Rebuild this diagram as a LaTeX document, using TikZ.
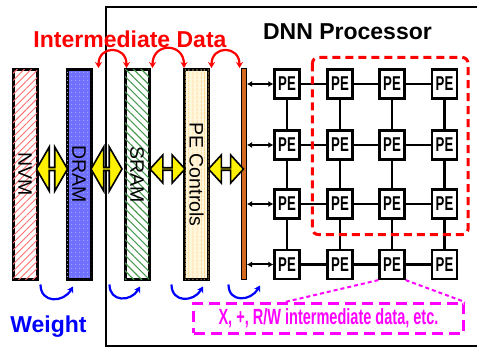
\documentclass[tikz,border=0pt]{standalone}
\usepackage{fontspec}
\setmainfont{Liberation Sans}
\newfontfamily\narrowsf[FakeStretch=0.66]{Liberation Sans}
\usepackage{tikz}
\usetikzlibrary{arrows.meta,shapes.arrows,patterns.meta}

\definecolor{dramblue}{HTML}{7070FF}
\definecolor{dramdot}{HTML}{A8A8FF}
\definecolor{nvmred}{HTML}{FF7070}
\definecolor{sramgreen}{HTML}{4A9A50}
\definecolor{pecfill}{HTML}{FFF6DC}
\definecolor{peclines}{HTML}{FFB830}
\definecolor{busorange}{HTML}{D2691E}
\definecolor{opsmagenta}{HTML}{FF00FF}

\begin{document}
\begin{tikzpicture}[x=1pt,y=1pt,
    every node/.style={font=\fontsize{19.5}{22}\selectfont},
    bar/.style={draw=black, line width=3pt, minimum width=24pt,
      minimum height=210pt, inner sep=0pt},
    barlabel/.style={rotate=-90},
    title/.style={font=\bfseries\fontsize{23}{26}\selectfont, anchor=base},
    yarrow/.style={double arrow, draw=black, line width=1.6pt, fill=yellow,
      inner sep=0pt, double arrow tip angle=120,
      double arrow head extend=11pt, minimum width=44pt, minimum height=31pt},
    redarc/.style={red, line width=2.2pt,
      {Stealth[length=6pt,width=7pt]}-{Stealth[length=6pt,width=7pt]}},
    bluearc/.style={blue, line width=2.2pt, -{Stealth[length=6pt,width=7pt]}},
    pebox/.style={draw, line width=2.2pt, fill=white, minimum width=25pt,
      minimum height=29pt, inner sep=0pt,
      font=\narrowsf\bfseries\fontsize{20}{22}\selectfont},
    busarrow/.style={line width=2pt,
      {Latex[length=5pt,width=6pt]}-{Latex[length=5pt,width=6pt]}}]
  \useasboundingbox (0,0) rectangle (477,348);

  % processor frame
  \draw[line width=2.5pt] (480,341) -| (106,2) -- (480,2);

  % memory levels
  \node[bar, fill=white, postaction={pattern={Lines[angle=45,distance=5pt,line width=0.9pt]}, pattern color=nvmred},
    label={[barlabel]center:NVM}] (nvm) at (25,173.5) {};
  \node[bar, fill=dramblue, postaction={pattern={Dots[distance=4pt,radius=0.7pt]}, pattern color=dramdot},
    label={[barlabel]center:DRAM}] (dram) at (79,173.5) {};
  \node[bar, fill=white, postaction={pattern={Lines[angle=-45,distance=5.5pt,line width=1.1pt]}, pattern color=sramgreen},
    label={[barlabel]center:SRAM}] (sram) at (137,173.5) {};
  \node[bar, fill=pecfill, postaction={pattern={Lines[angle=90,distance=4pt,line width=0.8pt]}, pattern color=peclines},
    label={[barlabel]center:PE Controls}] (pec) at (196.5,173.5) {};
  \node[draw, line width=1pt, fill=busorange, minimum width=5pt,
    minimum height=211pt, inner sep=0pt] (bus) at (244,174) {};

  % transfers between levels
  \node[yarrow] (y1) at (52,179) {};
  \node[yarrow] (y2) at (106.5,179) {};
  \node[yarrow, minimum width=28pt, minimum height=35pt,
    double arrow head extend=8pt, double arrow tip angle=95] (y3) at (167.5,179) {};
  \node[yarrow, minimum width=28pt, minimum height=35pt,
    double arrow head extend=8pt, double arrow tip angle=95] (y4) at (226,179) {};

  % intermediate data
  \draw[redarc] ([xshift=6pt]dram.north east) to[out=90,in=90,looseness=2.1] ([xshift=3pt]sram.north west);
  \draw[redarc] ([xshift=2pt]sram.north east) to[out=90,in=90,looseness=2.1] ([xshift=1pt]pec.north west);
  \draw[redarc] ([xshift=1.5pt]pec.north east) to[out=90,in=90,looseness=2.1] ([xshift=-1.5pt]bus.north west);

  % weights
  \draw[bluearc] ([shift={(2pt,-3.5pt)}]nvm.south east) to[out=-90,in=-120,looseness=1.5] ([shift={(-6pt,-5.5pt)}]dram.south);
  \draw[bluearc] ([shift={(17pt,-3.5pt)}]dram.south east) to[out=-90,in=-120,looseness=1.5] ([shift={(3pt,-5.5pt)}]sram.south);
  \draw[bluearc] ([shift={(21pt,-3.5pt)}]sram.south east) to[out=-90,in=-120,looseness=1.5] ([shift={(6.5pt,-5.5pt)}]pec.south);
  \draw[bluearc] ([shift={(18.5pt,-3.5pt)}]pec.south east) to[out=-90,in=-120,looseness=1.5] ([shift={(16pt,-5.5pt)}]bus.south);

  \node[title, text=red] (inter) at (130,300) {Intermediate Data};
  \node[title] (dnn) at (347.5,308) {DNN Processor};
  \node[title, text=blue] (weight) at (48.5,15.5) {Weight};

  % PE array
  \foreach \r/\y in {1/264,2/203,3/144,4/83.5}
    \foreach \c/\x in {1/287,2/340,3/392,4/444.5}
      \node[pebox] (pe\r\c) at (\x,\y) {PE};
  \foreach \r in {1,...,4} {
    \draw[line width=2.2pt] (pe\r1) -- (pe\r2) (pe\r2) -- (pe\r3) (pe\r3) -- (pe\r4);
    \draw[line width=2.2pt] (pe1\r) -- (pe2\r) (pe2\r) -- (pe3\r) (pe3\r) -- (pe4\r);
    \draw[busarrow] (bus.east |- pe\r1) -- (pe\r1.west);
  }

  \draw[red, line width=3pt, dash pattern=on 8pt off 5pt, rounded corners=6pt]
    ([shift={(-14pt,11pt)}]pe12.north west) rectangle ([shift={(10pt,-15pt)}]pe34.south east);

  % PE operations
  \node[draw=opsmagenta, line width=3pt, dash pattern=on 11pt off 6pt,
    minimum width=270pt, minimum height=30pt, inner sep=0pt, text=opsmagenta,
    font=\narrowsf\bfseries\fontsize{22}{24}\selectfont] (ops) at (328.5,29.5)
    {X, +, R/W intermediate data, etc.};
  \draw[opsmagenta, line width=2pt, dash pattern=on 4pt off 3pt]
    (pe43.south west) -- ([xshift=-43.5pt]ops.north);
  \draw[opsmagenta, line width=2pt, dash pattern=on 4pt off 3pt]
    (pe43.south east) -- (ops.north east);
\end{tikzpicture}
\end{document}
